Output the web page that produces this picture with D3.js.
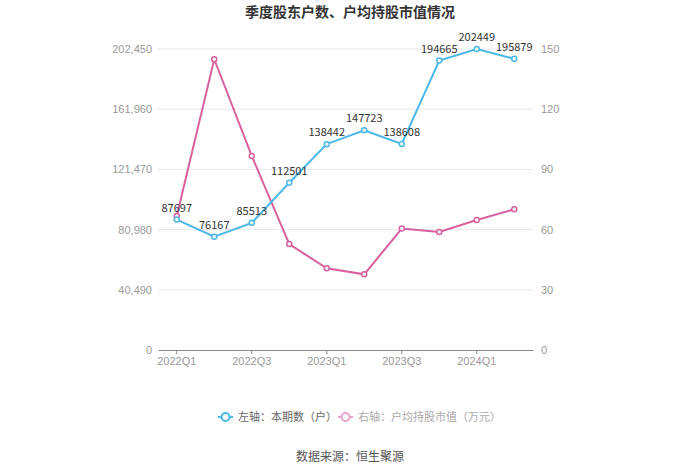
<!DOCTYPE html>
<html><head><meta charset="utf-8">
<script src="https://cdn.jsdelivr.net/npm/d3@7"></script>
<style>body{margin:0;background:#fff;}svg{display:block;font-family:"Microsoft YaHei","Noto Sans CJK SC",sans-serif;}</style>
</head><body><svg id="c" width="700" height="474"></svg>
<script>
const categories = ["2022Q1","2022Q2","2022Q3","2022Q4","2023Q1","2023Q2","2023Q3","2023Q4","2024Q1","2024Q2"];
const holders = [87697,76167,85513,112501,138442,147723,138608,194665,202449,195879];
const avgValue = [66.8,144.9,96.7,52.8,40.7,37.7,60.5,58.8,64.8,70.1];
const leftTicks = [0,40490,80980,121470,161960,202450];
const rightTicks = [0,30,60,90,120,150];
const shownLabels = ["2022Q1","2022Q3","2023Q1","2023Q3","2024Q1"];
const title = "季度股东户数、户均持股市值情况";
const legendNames = ["左轴：本期数（户）","右轴：户均持股市值（万元）"];
const source = "数据来源：恒生聚源";

const blue = "#4cb8e8", pink = "#d7609f";
const svg = d3.select("#c");
const L = 158, R = 533, T = 49, B = 350;
const x = d3.scaleBand().domain(categories).range([L, R]);
const yL = d3.scaleLinear().domain([0, 202450]).range([B, T]);
const yR = d3.scaleLinear().domain([0, 150]).range([B, T]);
const cx = d => x(d) + x.bandwidth()/2;

svg.append("text").attr("x",350).attr("y",17).attr("text-anchor","middle")
  .attr("font-size",14).attr("font-weight","bold").attr("fill","#333").text(title);

// grid
svg.append("g").selectAll("line").data(leftTicks.slice(1)).join("line")
  .attr("x1",L).attr("x2",R).attr("y1",d=>yL(d)).attr("y2",d=>yL(d))
  .attr("stroke","#e8e8ee").attr("stroke-width",1);

// left axis labels
const gl = svg.append("g").attr("transform",`translate(${L},0)`)
  .call(d3.axisLeft(yL).tickValues(leftTicks).tickSize(0).tickPadding(6).tickFormat(d3.format(",")));
gl.select(".domain").remove();
gl.selectAll("text").attr("fill","#999").attr("font-size",11).attr("font-family","inherit");

const gr = svg.append("g").attr("transform",`translate(${R},0)`)
  .call(d3.axisRight(yR).tickValues(rightTicks).tickSize(0).tickPadding(8));
gr.select(".domain").remove();
gr.selectAll("text").attr("fill","#999").attr("font-size",11).attr("font-family","inherit");

// x axis
const gx = svg.append("g").attr("transform",`translate(0,${B})`)
  .call(d3.axisBottom(x).tickValues(shownLabels).tickSize(4).tickPadding(3).tickSizeOuter(0));
gx.select(".domain").attr("stroke","#888");
gx.selectAll(".tick line").attr("stroke","#888");
gx.selectAll("text").attr("fill","#999").attr("font-size",11).attr("font-family","inherit");

// lines
const lineL = d3.line().x((d,i)=>cx(categories[i])).y(d=>yL(d));
const lineR = d3.line().x((d,i)=>cx(categories[i])).y(d=>yR(d));
svg.append("path").attr("d",lineR(avgValue)).attr("fill","none").attr("stroke",pink).attr("stroke-width",2);
svg.append("path").attr("d",lineL(holders)).attr("fill","none").attr("stroke",blue).attr("stroke-width",2);
svg.append("g").selectAll("circle").data(avgValue).join("circle")
  .attr("cx",(d,i)=>cx(categories[i])).attr("cy",d=>yR(d)).attr("r",2.5)
  .attr("fill","#fff").attr("stroke",pink).attr("stroke-width",1.5);
svg.append("g").selectAll("circle").data(holders).join("circle")
  .attr("cx",(d,i)=>cx(categories[i])).attr("cy",d=>yL(d)).attr("r",2.5)
  .attr("fill","#fff").attr("stroke",blue).attr("stroke-width",1.5);
svg.append("g").selectAll("text").data(holders).join("text")
  .attr("x",(d,i)=>cx(categories[i])).attr("y",d=>yL(d)-8).attr("text-anchor","middle")
  .attr("font-size",11).attr("fill","#333").text(d=>d);

// legend
const leg = [{c:blue,t:legendNames[0],x:218,tc:"#666"},{c:"#e6a6cb",t:legendNames[1],x:338,tc:"#aaa"}];
leg.forEach(l=>{
  const g = svg.append("g");
  g.append("line").attr("x1",l.x).attr("x2",l.x+15).attr("y1",417).attr("y2",417).attr("stroke",l.c).attr("stroke-width",2);
  g.append("circle").attr("cx",l.x+7.5).attr("cy",417).attr("r",4).attr("fill","#fff").attr("stroke",l.c).attr("stroke-width",2);
  g.append("text").attr("x",l.x+20).attr("y",421).attr("font-size",11).attr("fill",l.tc).text(l.t);
});
svg.append("text").attr("x",350).attr("y",461).attr("text-anchor","middle").attr("font-size",12).attr("fill","#555").text(source);
</script></body></html>
